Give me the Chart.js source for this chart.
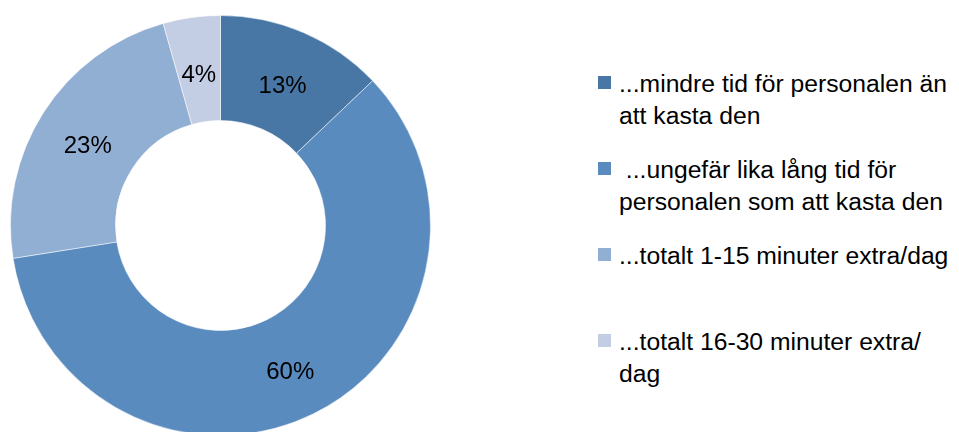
<!DOCTYPE html>
<html>
<head>
<meta charset="utf-8">
<script src="https://cdn.jsdelivr.net/npm/chart.js@4/dist/chart.umd.min.js"></script>
<style>
    html, body {
        margin: 0;
        padding: 0;
        width: 959px;
        height: 432px;
        overflow: hidden;
        background: #fff;
        font-family: "Liberation Sans", Arial, sans-serif;
    }
    #wrap {
        position: absolute;
        left: 10px;
        top: 15px;
        width: 421px;
        height: 421px;
    }
    #legend {
        position: absolute;
        left: 598px;
        top: 68px;
        width: 361px;
    }
    .legend-item {
        display: flex;
        align-items: flex-start;
        height: 86px;
        font-size: 24.7px;
        line-height: 32px;
        color: #000;
    }
    .legend-box {
        flex: 0 0 13px;
        width: 13px;
        height: 13px;
        margin-top: 8px;
        margin-right: 8px;
    }
</style>
</head>
<body>
<div id="wrap"><canvas id="answerChart" width="421" height="421"></canvas></div>
<div id="legend"></div>

<script>
// Answer categories (legend text, already split the way the original wraps)
const categories = [
    ['...mindre tid för personalen än', 'att kasta den'],
    [' ...ungefär lika lång tid för', 'personalen som att kasta den'],
    ['...totalt 1-15 minuter extra/dag'],
    ['...totalt 16-30 minuter extra/', 'dag']
];

// Share of answers (percent)
const shares = [12.9, 59.6, 23.1, 4.4];

const sliceColors = ['#4877A5', '#598BBF', '#91AED3', '#C3CDE3'];

// Draw percentage text in the middle of every slice
const sliceLabels = {
    id: 'sliceLabels',
    afterDatasetsDraw(chart) {
        const ctx = chart.ctx;
        const meta = chart.getDatasetMeta(0);
        const data = chart.data.datasets[0].data;
        const total = data.reduce((a, b) => a + b, 0);
        ctx.save();
        ctx.font = '24px "Liberation Sans", Arial, sans-serif';
        ctx.fillStyle = '#000';
        ctx.textAlign = 'center';
        ctx.textBaseline = 'middle';
        meta.data.forEach((arc, i) => {
            const pos = arc.tooltipPosition();
            const pct = Math.round(data[i] / total * 100);
            // excel-style labels sit a little below the arc middle
            ctx.fillText(pct + '%', pos.x, pos.y + 6);
        });
        ctx.restore();
    }
};

const answerChart = new Chart(
    document.getElementById('answerChart'),
    {
        type: 'doughnut',
        data: {
            labels: categories.map(c => c.join(' ')),
            datasets: [{
                data: shares,
                backgroundColor: sliceColors,
                borderColor: 'rgba(255,255,255,0.5)',
                borderWidth: 1
            }]
        },
        options: {
            responsive: false,
            animation: false,
            cutout: '50%',
            layout: { padding: 0 },
            plugins: {
                legend: { display: false },
                tooltip: { enabled: false }
            }
        },
        plugins: [sliceLabels]
    }
);

// Build the legend from the chart's own labels and colours
function buildLegend(chart) {
    const legend = document.getElementById('legend');
    const colors = chart.data.datasets[0].backgroundColor;
    categories.forEach((lines, i) => {
        const item = document.createElement('div');
        item.className = 'legend-item';

        const box = document.createElement('div');
        box.className = 'legend-box';
        box.style.background = colors[i];

        const text = document.createElement('div');
        text.style.whiteSpace = 'pre';
        text.textContent = lines.join('\n');

        item.appendChild(box);
        item.appendChild(text);
        legend.appendChild(item);
    });
}

buildLegend(answerChart);
</script>
</body>
</html>
